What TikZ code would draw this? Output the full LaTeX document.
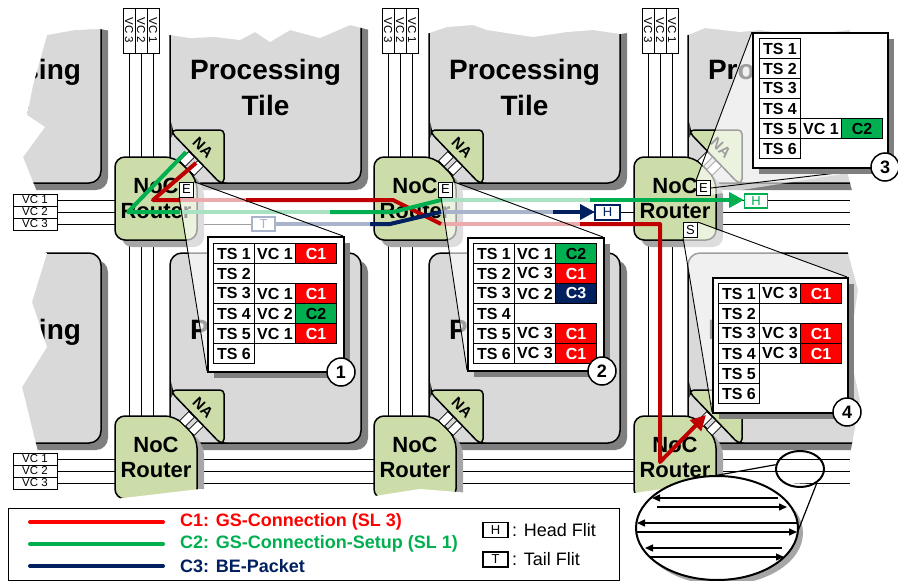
\documentclass[tikz,border=0pt]{standalone}
\usepackage{fontspec}
\setmainfont{Liberation Sans}
\usetikzlibrary{arrows.meta,shapes.geometric}
\definecolor{tilegray}{HTML}{D9D9D9}
\definecolor{tileshadow}{HTML}{7F7F7F}
\definecolor{rshadowc}{HTML}{A6A6A6}
\definecolor{rgreen}{HTML}{CCDDAA}
\definecolor{cred}{HTML}{FF0000}
\definecolor{pred}{HTML}{C00000}
\definecolor{cgreen}{HTML}{00B050}
\definecolor{cblue}{HTML}{002060}
\definecolor{lred}{HTML}{EDAAAA}
\definecolor{lgreen}{HTML}{A8E2C2}
\definecolor{lblue}{HTML}{A8B4CC}
\newcommand\Tile[6]{%
  \fill[tileshadow, rounded corners=12pt] ({#2+7},{#3+7}) rectangle ({#2+#4+7},{#3+#5+7});
  \draw[tilestyle, rounded corners=12pt] (#2,#3) rectangle ({#2+#4},{#3+#5});
  \node[tiletext] (#1a) at ({#2+#4/2},#6) {Processing};
  \node[tiletext] (#1b) at ({#2+#4/2},{#6+33}) {Tile};
}
\newcommand\Router[3]{%
  \fill[rshadowc, rounded corners=10pt] ({#2+7},{#3+47}) -- ({#2+7},{#3+7}) -- ({#2+67},{#3+7}) -- ({#2+89},{#3+29}) -- ({#2+89},{#3+90}) -- ({#2+7},{#3+90}) -- cycle;
  \draw[rbody] (#2,{#3+40}) -- (#2,#3) -- ({#2+60},#3) -- ({#2+82},{#3+22}) -- ({#2+82},{#3+83}) -- (#2,{#3+83}) -- cycle;
  \node[noctext] (#1) at ({#2+41},{#3+41}) {NoC\\Router};
}
\newcommand\NAunit[3]{%
  \draw[rbody, rounded corners=4pt] ({#2+2},{#3-50}) -- ({#2+2},{#3-53}) -- ({#2+54},{#3-53}) -- ({#2+54},{#3}) -- ({#2+50},{#3}) -- cycle;
  \node[natext, rotate=-45] (#1) at ({#2+33},{#3-35}) {NA};
  \node[lane, rotate=45] (#1l1) at ({#2+17},{#3-24}) {};
  \node[lane, rotate=45] (#1l2) at ({#2+26},{#3-15}) {};
}
\newcommand\Full[7]{%
  \node[cell] (#1ts) at (#2,#3) {#4};
  \node[cell] (#1vc) at ({#2+41},#3) {#5};
  \node[cell,fill=#6] (#1c) at ({#2+82},#3) {#7};
}
\newcommand\Only[4]{\node[cell] (#1ts) at (#2,#3) {#4};}
\begin{document}
\begin{tikzpicture}[x=1pt,y=-1pt,
  tilestyle/.style={draw=black,line width=1.5pt,fill=tilegray},
  tiletext/.style={font=\fontsize{28}{30}\selectfont\bfseries,inner sep=0pt},
  rbody/.style={draw=black,line width=1.5pt,fill=rgreen,rounded corners=10pt},
  noctext/.style={font=\fontsize{22}{25}\selectfont\bfseries,align=center,inner sep=0pt},
  natext/.style={font=\fontsize{15}{15}\selectfont\bfseries,inner sep=0pt},
  lane/.style={draw=black,line width=0.8pt,fill=white,minimum width=13pt,minimum height=8pt,inner sep=0pt},
  vcline/.style={draw=black,line width=0.9pt},
  vclab/.style={draw=black,fill=white,line width=0.8pt,inner sep=0pt,font=\fontsize{11.5}{12}\selectfont},
  portbox/.style={draw=black,fill=white,line width=0.8pt,minimum width=14pt,minimum height=15pt,inner sep=0pt,font=\fontsize{13}{13}\selectfont},
  flitbox/.style={draw,fill=white,line width=1.6pt,minimum width=23pt,minimum height=14pt,inner sep=0pt,font=\fontsize{13}{13}\selectfont},
  cell/.style={draw=black,line width=1pt,fill=white,minimum width=41pt,minimum height=20pt,inner sep=0pt,anchor=north west,font=\fontsize{16}{16}\selectfont\bfseries},
  tablebox/.style={draw=black,line width=1.8pt,fill=white,minimum width=136pt,minimum height=135pt,inner sep=0pt,anchor=north west},
  circ/.style={circle,draw=black,fill=white,line width=1.5pt,minimum size=28pt,inner sep=0pt,font=\fontsize{18}{18}\selectfont\bfseries},
  cone/.style={fill=white,fill opacity=0.62},
  coneline/.style={draw=black,line width=0.9pt},
  cpath/.style={line width=4pt,line join=round},
  legtext/.style={font=\fontsize{18}{18}\selectfont\bfseries,anchor=west,inner sep=0pt},
  legplain/.style={font=\fontsize{18}{18}\selectfont,anchor=west,inner sep=0pt},
  bigtip/.style={-{Triangle[length=15pt,width=15pt]}},
  smalltip/.style={-{Triangle[length=8pt,width=7pt]}}
]
\useasboundingbox (0,0) rectangle (898,581);
% ---------- tiles ----------
\Tile{tA}{-90}{-20}{191}{203}{72}
\Tile{tB}{170}{-20}{191}{203}{72}
\Tile{tC}{429}{-20}{191}{203}{72}
\Tile{tD}{688}{-20}{191}{203}{72}
\Tile{tE}{-90}{253}{191}{190}{332}
\Tile{tF}{170}{253}{191}{190}{332}
\Tile{tG}{429}{253}{191}{190}{332}
\Tile{tH}{688}{253}{191}{190}{332}
% ---------- torn edges ----------
\fill[white] (-5,-5) -- (903,-5) -- (903,33) -- (850,30) -- (800,36) -- (760,30) -- (740,32) -- (705,28) -- (688,35) -- (650,30) -- (620,34) -- (593,30) -- (567,32) -- (533,37) -- (487,30) -- (473,25) -- (447,27) -- (429,33) -- (400,35) -- (370,30) -- (350,25) -- (320,38) -- (290,30) -- (270,42) -- (255,32) -- (240,40) -- (215,37) -- (190,38) -- (170,35) -- (130,34) -- (100,29) -- (75,30) -- (47,35) -- (25,33) -- (-5,38) -- cycle;
\fill[white] (-5,-5) -- (47,-5) -- (47,35) -- (33,85) -- (27,115) -- (45,127) -- (23,157) -- (37,192) -- (40,250) -- (47,253) -- (32,302) -- (47,347) -- (22,387) -- (38,452) -- (30,520) -- (-5,520) -- cycle;
\fill[white] (903,-5) -- (850,-5) -- (850,60) -- (858,110) -- (848,175) -- (856,205) -- (846,245) -- (858,290) -- (849,350) -- (860,400) -- (851,450) -- (855,520) -- (903,520) -- cycle;
% ---------- links ----------
\foreach \X in {115,374,634} {
  \foreach \d in {14,26,38} {
    \draw[vcline] ({\X+\d},53) -- ({\X+\d},157);
    \draw[vcline] ({\X+\d},240) -- ({\X+\d},416);
    \draw[vcline] ({\X+\d},499) -- ({\X+\d},512);
  }
}
\foreach \Y in {157,416} {
  \foreach \d in {43,55,67} {
    \draw[vcline] (57,{\Y+\d}) -- (115,{\Y+\d});
    \draw[vcline] (197,{\Y+\d}) -- (374,{\Y+\d});
    \draw[vcline] (456,{\Y+\d}) -- (634,{\Y+\d});
    \draw[vcline] (716,{\Y+\d}) -- (850,{\Y+\d});
  }
}
\foreach \X/\n in {115/a,374/b,634/c} {
  \node[vclab,rotate=-90,minimum width=45pt,minimum height=12pt] (vt\n3) at ({\X+14},30.5) {VC 3};
  \node[vclab,rotate=-90,minimum width=45pt,minimum height=12pt] (vt\n2) at ({\X+26},30.5) {VC 2};
  \node[vclab,rotate=-90,minimum width=45pt,minimum height=12pt] (vt\n1) at ({\X+38},30.5) {VC 1};
}
\foreach \Y/\n in {157/a,416/b} {
  \node[vclab,minimum width=44pt,minimum height=12pt] (vl\n1) at (35,{\Y+43}) {VC 1};
  \node[vclab,minimum width=44pt,minimum height=12pt] (vl\n2) at (35,{\Y+55}) {VC 2};
  \node[vclab,minimum width=44pt,minimum height=12pt] (vl\n3) at (35,{\Y+67}) {VC 3};
}
% ---------- routers and network adapters ----------
\Router{R1}{115}{157}
\Router{R2}{374}{157}
\Router{R3}{634}{157}
\Router{R4}{115}{416}
\Router{R5}{374}{416}
\Router{R6}{634}{416}
\NAunit{NA1}{170}{183}
\NAunit{NA2}{429}{183}
\NAunit{NA3}{688}{183}
\NAunit{NA4}{170}{443}
\NAunit{NA5}{429}{443}
\NAunit{NA6}{688}{443}
% bottom torn edge
\fill[white] (-5,590) -- (-5,502) -- (60,497) -- (115,499) -- (200,489) -- (300,497) -- (375,496) -- (420,489) -- (520,497) -- (635,493) -- (720,480) -- (903,488) -- (903,590) -- cycle;
% ---------- magnifier cones (translucent) ----------
\fill[cone] (180,197) -- (180,182) -- (193,182) -- (343,236) -- (343,371) -- (207,371) -- cycle;
\fill[cone] (441,197) -- (438,182) -- (453,182) -- (603,237) -- (603,370) -- (467,370) -- cycle;
\fill[cone] (697,181) -- (752,32) -- (887,32) -- (887,167) -- (710,195) -- (697,195) -- cycle;
\fill[cone] (683,237) -- (683,223) -- (698,223) -- (847,277) -- (847,412) -- (712,412) -- cycle;
% ---------- connections ----------
\coordinate (r0) at (196,163); \coordinate (r1) at (153,200); \coordinate (r1p) at (180,200);
\coordinate (r1q) at (246,200); \coordinate (r2) at (393,200);
\coordinate (r3) at (441,224); \coordinate (r3q) at (580,224); \coordinate (r4) at (660,224);
\coordinate (r5) at (660,462); \coordinate (r6) at (706,415);
\coordinate (g0) at (186,152); \coordinate (g1) at (128,212); \coordinate (g1p) at (180,212);
\coordinate (g1q) at (330,212); \coordinate (g2) at (393,212);
\coordinate (g3) at (441,200); \coordinate (g3q) at (590,200); \coordinate (g4) at (744,200);
\coordinate (b0) at (275,224); \coordinate (b0q) at (370,224); \coordinate (b1) at (390,224);
\coordinate (b2) at (441,212); \coordinate (b2q) at (553,212); \coordinate (b3) at (595,212);
% pale parts
\draw[cpath,lred] (r1p) -- (r1q);
\draw[cpath,lred] (r3) -- (r3q);
\draw[cpath,lgreen] (g1p) -- (g1q);
\draw[cpath,lgreen] (g3) -- (g3q);
\draw[cpath,lblue] (b0) -- (b0q);
\draw[cpath,lblue] (b2) -- (b2q);
% dark parts
\draw[cpath,pred] (r0) -- (r1) -- (r1p);
\draw[cpath,pred] (r1q) -- (r2) -- (r3);
\draw[cpath,pred,bigtip] (r3q) -- (r4) -- (r5) -- (r6);
\draw[cpath,cgreen] (g0) -- (g1) -- (g1p);
\draw[cpath,cgreen] (g1q) -- (g2) -- (g3);
\draw[cpath,cgreen,bigtip] (g3q) -- (g4);
\draw[cpath,cblue] (b0q) -- (b1) -- (b2);
\draw[cpath,cblue,bigtip] (b2q) -- (b3);
\node[flitbox,draw=lblue,text=lblue] (Tflit) at (263.5,224) {T};
% ---------- port boxes and cone edges ----------
\node[portbox] (E1) at (186.5,189.5) {E};
\node[portbox] (E2) at (445.5,189.5) {E};
\node[portbox] (E3) at (703.5,188) {E};
\node[portbox] (S3) at (690.5,230) {S};
\coordinate (t1a) at (343,236); \coordinate (t1b) at (207,371);
\coordinate (t2a) at (603,237); \coordinate (t2b) at (467,370);
\coordinate (t3a) at (752,32); \coordinate (t3b) at (887,167);
\coordinate (t4a) at (847,277); \coordinate (t4b) at (712,412);
\draw[coneline] (E1.north east) -- (t1a); \draw[coneline] (E1.south west) -- (t1b);
\draw[coneline] (E2.north east) -- (t2a); \draw[coneline] ([xshift=3pt]E2.south west) -- (t2b);
\draw[coneline] (E3.north west) -- (t3a); \draw[coneline] (E3.east) -- (t3b);
\draw[coneline] (S3.north east) -- (t4a); \draw[coneline] (S3.south west) -- (t4b);
\node[flitbox,draw=cblue,text=cblue,minimum width=25pt,minimum height=15pt] (Hblue) at (607.5,212.5) {H};
\node[flitbox,draw=cgreen,text=cgreen] (Hgreen) at (756,201) {H};
% ---------- tables ----------
\fill[tileshadow] (214,243) rectangle (350,378);
\node[tablebox] (tab1) at (207,236) {};
\Full{a1}{213}{243}{TS 1}{VC 1}{cred}{\textcolor{white}{C1}}
\Only{a2}{213}{263}{TS 2}
\Full{a3}{213}{283}{TS 3}{VC 1}{cred}{\textcolor{white}{C1}}
\Full{a4}{213}{303}{TS 4}{VC 2}{cgreen}{C2}
\Full{a5}{213}{323}{TS 5}{VC 1}{cred}{\textcolor{white}{C1}}
\Only{a6}{213}{343}{TS 6}
\fill[tileshadow] (474,244) rectangle (610,377);
\node[tablebox,minimum height=133pt] (tab2) at (467,237) {};
\Full{b1}{473}{243}{TS 1}{VC 1}{cgreen}{C2}
\Full{b2}{473}{263}{TS 2}{VC 3}{cred}{\textcolor{white}{C1}}
\Full{b3}{473}{283}{TS 3}{VC 2}{cblue}{\textcolor{white}{C3}}
\Only{b4}{473}{303}{TS 4}
\Full{b5}{473}{323}{TS 5}{VC 3}{cred}{\textcolor{white}{C1}}
\Full{b6}{473}{343}{TS 6}{VC 3}{cred}{\textcolor{white}{C1}}
\fill[tileshadow] (759,39) rectangle (894,174);
\node[tablebox,minimum width=135pt] (tab3) at (752,32) {};
\Only{c1}{759}{38}{TS 1}
\Only{c2}{759}{58}{TS 2}
\Only{c3}{759}{78}{TS 3}
\Only{c4}{759}{98}{TS 4}
\Full{c5}{759}{118}{TS 5}{VC 1}{cgreen}{C2}
\Only{c6}{759}{138}{TS 6}
\fill[tileshadow] (719,284) rectangle (854,419);
\node[tablebox,minimum width=135pt] (tab4) at (712,277) {};
\Full{d1}{718}{283}{TS 1}{VC 3}{cred}{\textcolor{white}{C1}}
\Only{d2}{718}{303}{TS 2}
\Full{d3}{718}{323}{TS 3}{VC 3}{cred}{\textcolor{white}{C1}}
\Full{d4}{718}{343}{TS 4}{VC 3}{cred}{\textcolor{white}{C1}}
\Only{d5}{718}{363}{TS 5}
\Only{d6}{718}{383}{TS 6}
\node[circ] (n1) at (341,372) {1};
\node[circ] (n2) at (602,371) {2};
\node[circ] (n3) at (885,167) {3};
\node[circ] (n4) at (847,412) {4};
% ---------- legend ----------
\node[draw=black,line width=1.2pt,minimum width=611pt,minimum height=72pt,anchor=north west,inner sep=0pt] (legend) at (8,508) {};
\coordinate (l1a) at (30,522); \coordinate (l1b) at (163,522);
\coordinate (l2a) at (30,544); \coordinate (l2b) at (163,544);
\coordinate (l3a) at (30,566); \coordinate (l3b) at (163,566);
\draw[cred,line width=4pt,line cap=round] (l1a) -- (l1b);
\draw[cgreen,line width=4pt,line cap=round] (l2a) -- (l2b);
\draw[cblue,line width=4pt,line cap=round] (l3a) -- (l3b);
\node[legtext,text=cred] (lt1) at (180,522) {C1: GS-Connection (SL 3)};
\node[legtext,text=cgreen] (lt2) at (180,544) {C2: GS-Connection-Setup (SL 1)};
\node[legtext,text=cblue] (lt3) at (180,566) {C3: BE-Packet};
\node[flitbox,draw=black,minimum width=25pt,minimum height=15pt] (lh) at (495.5,530) {H};
\node[legplain] (lht) at (512,530) {: Head Flit};
\node[flitbox,draw=black,minimum width=25pt,minimum height=15pt] (ltb) at (495.5,559.5) {T};
\node[legplain] (ltt) at (512,559.5) {: Tail Flit};
% ---------- link zoom ----------
\fill[rshadowc] (722,533) ellipse [x radius=81pt, y radius=52pt];
\draw[line width=2pt,fill=white] (717,528) ellipse [x radius=81pt, y radius=52pt];
\node[draw=black,line width=2pt,ellipse,minimum width=48pt,minimum height=36pt,inner sep=0pt] (small) at (800,469) {};
\coordinate (bigtop) at (713,476); \coordinate (bigright) at (798,531);
\draw[line width=1.2pt] (small.170) -- (bigtop);
\draw[line width=1.2pt] (small.-40) -- (bigright);
\coordinate (e1a) at (778,498); \coordinate (e1b) at (652,498);
\coordinate (e2a) at (657,507); \coordinate (e2b) at (787,507);
\coordinate (e3a) at (797,523); \coordinate (e3b) at (637,523);
\coordinate (e4a) at (637,532); \coordinate (e4b) at (797,532);
\coordinate (e5a) at (782,548); \coordinate (e5b) at (645,548);
\coordinate (e6a) at (650,557); \coordinate (e6b) at (784,557);
\draw[line width=1.4pt,smalltip] (e1a) -- (e1b);
\draw[line width=1.4pt,smalltip] (e2a) -- (e2b);
\draw[line width=1.4pt,smalltip] (e3a) -- (e3b);
\draw[line width=1.4pt,smalltip] (e4a) -- (e4b);
\draw[line width=1.4pt,smalltip] (e5a) -- (e5b);
\draw[line width=1.4pt,smalltip] (e6a) -- (e6b);
\end{tikzpicture}
\end{document}
